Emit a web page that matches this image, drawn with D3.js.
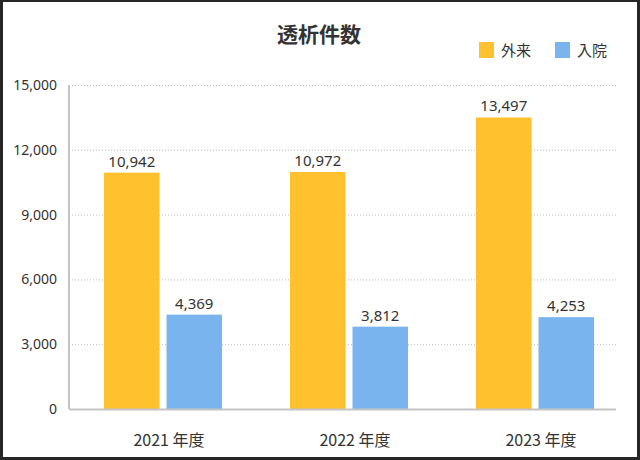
<!DOCTYPE html>
<html><head><meta charset="utf-8">
<script src="https://cdn.jsdelivr.net/npm/d3@7"></script>
<style>html,body{margin:0;padding:0;background:#262626;}svg{display:block;}</style>
</head><body>
<svg id="c" width="640" height="460"></svg>
<script>
const categories = ["2021 年度", "2022 年度", "2023 年度"];
const seriesNames = ["外来", "入院"];
const outpatient = [10942, 10972, 13497];
const inpatient = [4369, 3812, 4253];
const yTicks = [0, 3000, 6000, 9000, 12000, 15000];
const colors = ["#FFC12E", "#7AB4EE"];
const title = "透析件数";

const svg = d3.select("#c");
svg.append("rect").attr("x", 3).attr("y", 2).attr("width", 634).attr("height", 455).attr("fill", "#fff");

const pL = 69, pR = 616, pT = 85, pB = 409;
const y = d3.scaleLinear().domain([0, 15000]).range([pB, pT]);
const x0 = d3.scaleBand().domain(categories).range([70, 628]).padding(0);
const x1 = d3.scaleBand().domain(seriesNames).range([-59, 59]).paddingInner(0.112).paddingOuter(0);
const fmt = d3.format(",");
const cjk = "'Noto Sans CJK JP','Noto Sans',sans-serif";
const num = "'Noto Sans','Noto Sans CJK JP',sans-serif";

// gridlines
svg.append("g").selectAll("line").data(yTicks.filter(d => d > 0)).join("line")
  .attr("x1", pL).attr("x2", pR)
  .attr("y1", d => y(d) + 0.5).attr("y2", d => y(d) + 0.5)
  .attr("stroke", "#bdbdbd").attr("stroke-width", 1).attr("stroke-dasharray", "1,2");

// y axis
const yAxis = svg.append("g").attr("transform", `translate(${pL},0)`)
  .call(d3.axisLeft(y).tickValues(yTicks).tickFormat(fmt).tickSize(0).tickPadding(12));
yAxis.select(".domain").remove();
yAxis.selectAll("text").attr("font-family", num).attr("font-size", 14).attr("fill", "#333");
svg.append("line").attr("x1", pL).attr("x2", pL).attr("y1", pT).attr("y2", pB)
  .attr("stroke", "#c4c4c4").attr("stroke-width", 2);

const data = categories.map((c, i) => ({cat: c, vals: [
  {s: seriesNames[0], v: outpatient[i], c: colors[0]},
  {s: seriesNames[1], v: inpatient[i], c: colors[1]}
]}));

const groups = svg.append("g").selectAll("g").data(data).join("g")
  .attr("transform", d => `translate(${x0(d.cat) + x0.bandwidth() / 2},0)`);
groups.selectAll("rect").data(d => d.vals).join("rect")
  .attr("x", d => x1(d.s)).attr("width", x1.bandwidth())
  .attr("y", d => y(d.v)).attr("height", d => y(0) - y(d.v))
  .attr("fill", d => d.c);
groups.selectAll("text").data(d => d.vals).join("text")
  .attr("x", d => x1(d.s) + x1.bandwidth() / 2).attr("y", d => y(d.v) - 6)
  .attr("text-anchor", "middle").attr("font-family", num).attr("font-size", 15)
  .attr("fill", "#333").text(d => fmt(d.v));

// x axis line
svg.append("line").attr("x1", pL).attr("x2", pR).attr("y1", pB + 0.5).attr("y2", pB + 0.5)
  .attr("stroke", "#c4c4c4").attr("stroke-width", 2);

const xAxis = svg.append("g").attr("transform", `translate(0,${pB})`)
  .call(d3.axisBottom(x0).tickSize(0).tickPadding(0));
xAxis.select(".domain").remove();
xAxis.selectAll("text").attr("font-family", cjk).attr("font-size", 16).attr("fill", "#333")
  .attr("dy", null).attr("y", 37).attr("dx", 6);

// title
svg.append("text").attr("x", 319).attr("y", 42).attr("text-anchor", "middle")
  .attr("font-family", cjk).attr("font-size", 21).attr("font-weight", "bold").attr("fill", "#333").text(title);

// legend
const lg = svg.append("g").selectAll("g").data(seriesNames).join("g")
  .attr("transform", (d, i) => `translate(${479 + i * 76},42)`);
lg.append("rect").attr("width", 15).attr("height", 16).attr("fill", (d, i) => colors[i]);
lg.append("text").attr("x", 22).attr("y", 14).attr("font-family", cjk).attr("font-size", 15)
  .attr("fill", "#333").text(d => d);
</script>
</body></html>
